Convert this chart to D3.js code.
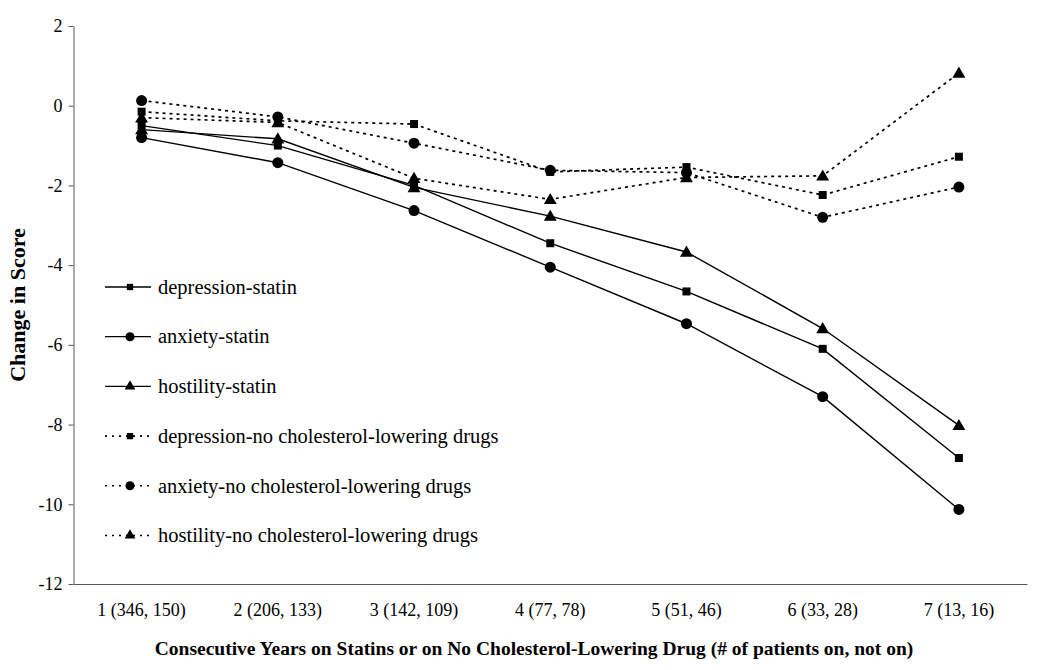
<!DOCTYPE html>
<html>
<head>
<meta charset="utf-8">
<script src="https://cdn.jsdelivr.net/npm/d3@7"></script>
<style>
  body { margin: 0; background: #fff; }
  svg { font-family: "Liberation Serif", "Times New Roman", serif; }
  .axis path, .axis line { stroke: #555; }
  .axis text { font-size: 18px; fill: #000; }
</style>
</head>
<body>
<svg id="chart" width="1048" height="670"></svg>
<script>
const categories = ['1 (346, 150)', '2 (206, 133)', '3 (142, 109)', '4 (77, 78)', '5 (51, 46)', '6 (33, 28)', '7 (13, 16)'];
const yTicks = [2, 0, -2, -4, -6, -8, -10, -12];

const depressionStatin = [-0.5, -1.0, -2.0, -3.45, -4.66, -6.1, -8.84];
const anxietyStatin = [-0.8, -1.43, -2.63, -4.05, -5.47, -7.3, -10.13];
const hostilityStatin = [-0.6, -0.83, -2.05, -2.77, -3.67, -5.59, -8.02];
const depressionNone = [-0.15, -0.38, -0.46, -1.66, -1.54, -2.24, -1.28];
const anxietyNone = [0.13, -0.28, -0.94, -1.62, -1.68, -2.8, -2.04];
const hostilityNone = [-0.3, -0.42, -1.82, -2.35, -1.8, -1.76, 0.82];

const series = [
  {name: 'depression-statin', values: depressionStatin, symbol: 'square', dotted: false},
  {name: 'anxiety-statin', values: anxietyStatin, symbol: 'circle', dotted: false},
  {name: 'hostility-statin', values: hostilityStatin, symbol: 'triangle', dotted: false},
  {name: 'depression-no cholesterol-lowering drugs', values: depressionNone, symbol: 'square', dotted: true},
  {name: 'anxiety-no cholesterol-lowering drugs', values: anxietyNone, symbol: 'circle', dotted: true},
  {name: 'hostility-no cholesterol-lowering drugs', values: hostilityNone, symbol: 'triangle', dotted: true}
];

const plot = {left: 73.5, right: 1027, top: 26, bottom: 584};
const serif = '"Liberation Serif", "Times New Roman", serif';

const symbols = {
  square: d3.symbol().type(d3.symbolSquare).size(64),
  circle: d3.symbol().type(d3.symbolCircle).size(95),
  triangle: d3.symbol().type(d3.symbolTriangle).size(72)
};
const legendSymbols = {
  square: d3.symbol().type(d3.symbolSquare).size(40),
  circle: d3.symbol().type(d3.symbolCircle).size(64),
  triangle: d3.symbol().type(d3.symbolTriangle).size(50)
};

const svg = d3.select('#chart');

const x = d3.scaleBand()
    .domain(categories)
    .range([plot.left, plot.right])
    .padding(0);

const y = d3.scaleLinear()
    .domain([-12, 2])
    .range([plot.bottom, plot.top]);

const cx = i => x(categories[i]) + x.bandwidth() / 2;

// axes
const yAxis = d3.axisLeft(y)
    .tickValues(yTicks)
    .tickFormat(d => String(d))
    .tickSize(5)
    .tickPadding(6)
    .tickSizeOuter(0);

svg.append('g')
    .attr('class', 'y axis')
    .attr('transform', `translate(${plot.left},0)`)
    .call(yAxis)
    .attr('font-family', serif);

const xAxis = d3.axisBottom(x)
    .tickSize(0)
    .tickPadding(19)
    .tickSizeOuter(0);

svg.append('g')
    .attr('class', 'x axis')
    .attr('transform', `translate(0,${plot.bottom})`)
    .call(xAxis)
    .attr('font-family', serif);

// axis titles
svg.append('text')
    .attr('x', 534)
    .attr('y', 655)
    .attr('text-anchor', 'middle')
    .attr('font-size', 19.5)
    .attr('font-weight', 'bold')
    .text('Consecutive Years on Statins or on No Cholesterol-Lowering Drug (# of patients on, not on)');

svg.append('text')
    .attr('transform', 'translate(25,305) rotate(-90)')
    .attr('text-anchor', 'middle')
    .attr('font-size', 22)
    .attr('font-weight', 'bold')
    .text('Change in Score');

// lines and markers
const line = d3.line()
    .x((v, i) => cx(i))
    .y(v => y(v));

const g = svg.append('g').attr('class', 'series');

series.forEach(s => {
  g.append('path')
      .attr('d', line(s.values))
      .attr('fill', 'none')
      .attr('stroke', '#000')
      .attr('stroke-width', s.dotted ? 1.7 : 1.4)
      .attr('stroke-dasharray', s.dotted ? '3,4' : null);

  g.selectAll(null)
      .data(s.values)
      .enter()
      .append('path')
      .attr('d', symbols[s.symbol])
      .attr('transform', (v, i) => `translate(${cx(i)},${y(v) + (s.symbol === 'triangle' ? 1 : 0)})`)
      .attr('fill', '#000');
});

// legend
const legend = svg.append('g')
    .attr('class', 'legend')
    .attr('transform', 'translate(105,287)');

const rows = legend.selectAll('g')
    .data(series)
    .enter()
    .append('g')
    .attr('transform', (s, i) => `translate(0,${i * 49.7})`);

rows.append('line')
    .attr('x1', 0)
    .attr('x2', 46)
    .attr('stroke', '#000')
    .attr('stroke-width', s => s.dotted ? 1.6 : 1.3)
    .attr('stroke-dasharray', s => s.dotted ? '2,5' : null);

rows.append('path')
    .attr('d', s => legendSymbols[s.symbol]())
    .attr('transform', 'translate(25,0)')
    .attr('fill', '#000');

rows.append('text')
    .attr('x', 53)
    .attr('dy', '0.33em')
    .attr('font-size', 20.5)
    .text(s => s.name);
</script>
</body>
</html>
